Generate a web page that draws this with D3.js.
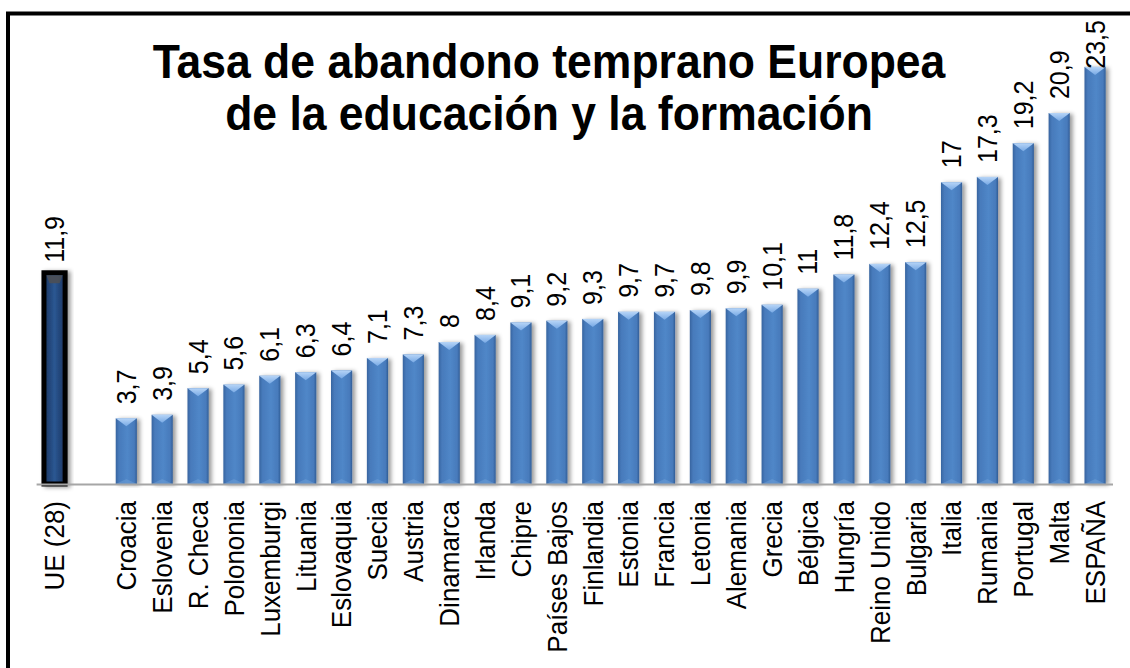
<!DOCTYPE html>
<html>
<head>
<meta charset="utf-8">
<script src="https://cdn.jsdelivr.net/npm/d3@7"></script>
<style>
	html, body { margin: 0; padding: 0; background: #fff; }
	svg { display: block; }
	text { font-family: "Liberation Sans", Arial, sans-serif; }
</style>
</head>
<body>
<script>
// datos
var tituloLineas = ["Tasa de abandono temprano Europea", "de la educación y la formación"];
var mediaNombre = "UE (28)";
var mediaValor = 11.9;
var paises = ["Croacia", "Eslovenia", "R. Checa", "Polononia", "Luxemburgi", "Lituania",
	"Eslovaquia", "Suecia", "Austria", "Dinamarca", "Irlanda", "Chipre", "Países Bajos",
	"Finlandia", "Estonia", "Francia", "Letonia", "Alemania", "Grecia", "Bélgica", "Hungría",
	"Reino Unido", "Bulgaria", "Italia", "Rumania", "Portugal", "Malta", "ESPAÑA"];
var tasas = [3.7, 3.9, 5.4, 5.6, 6.1, 6.3, 6.4, 7.1, 7.3, 8, 8.4, 9.1, 9.2, 9.3, 9.7, 9.7,
	9.8, 9.9, 10.1, 11, 11.8, 12.4, 12.5, 17, 17.3, 19.2, 20.9, 23.5];

var W = 1130, H = 668;
var base = 484;

var svg = d3.select("body").append("svg")
	.attr("width", W)
	.attr("height", H);

var defs = svg.append("defs");

// degradados de las barras
var gAzul = defs.append("linearGradient").attr("id", "azul").attr("x1", 0).attr("x2", 1).attr("y1", 0).attr("y2", 0);
gAzul.append("stop").attr("offset", "0%").attr("stop-color", "#37649f");
gAzul.append("stop").attr("offset", "15%").attr("stop-color", "#477abb");
gAzul.append("stop").attr("offset", "55%").attr("stop-color", "#5087c8");
gAzul.append("stop").attr("offset", "88%").attr("stop-color", "#477abb");
gAzul.append("stop").attr("offset", "100%").attr("stop-color", "#315d96");

var gOscuro = defs.append("linearGradient").attr("id", "oscuro").attr("x1", 0).attr("x2", 1).attr("y1", 0).attr("y2", 0);
gOscuro.append("stop").attr("offset", "0%").attr("stop-color", "#1a3560");
gOscuro.append("stop").attr("offset", "50%").attr("stop-color", "#2b5792");
gOscuro.append("stop").attr("offset", "100%").attr("stop-color", "#1a3560");

var gBisel = defs.append("linearGradient").attr("id", "bisel").attr("x1", 0).attr("x2", 0).attr("y1", 0).attr("y2", 1);
gBisel.append("stop").attr("offset", "0%").attr("stop-color", "#bcd9fa");
gBisel.append("stop").attr("offset", "100%").attr("stop-color", "#7aabe6");

// sombra a la derecha
var sombra = defs.append("filter").attr("id", "sombra")
	.attr("x", "-20%").attr("y", "-5%").attr("width", "160%").attr("height", "110%");
sombra.append("feDropShadow")
	.attr("dx", 3).attr("dy", 1)
	.attr("stdDeviation", 2.2)
	.attr("flood-color", "#000")
	.attr("flood-opacity", 0.4);

// marco (solo izquierda y arriba)
svg.append("path")
	.attr("d", "M8," + H + "V13.5H" + W)
	.attr("fill", "none")
	.attr("stroke", "#000")
	.attr("stroke-width", 4);

var dominio = [mediaNombre, " "].concat(paises);

var x = d3.scaleBand()
	.domain(dominio)
	.range([36.6, 1113])
	.paddingInner(0.41)
	.paddingOuter(0.205);

var y = d3.scaleLinear()
	.domain([0, 25])
	.range([base, base - 25 * 17.75]);

var datos = [{nombre: mediaNombre, valor: mediaValor, media: true}];
paises.forEach(function(p, i) {
	datos.push({nombre: p, valor: tasas[i], media: false});
});

var fmt = function(v) { return String(v).replace(".", ","); };
var bw = x.bandwidth();

var barras = svg.append("g").selectAll("g")
	.data(datos)
	.enter().append("g")
	.attr("filter", "url(#sombra)");

barras.append("rect")
	.attr("x", function(d) { return x(d.nombre); })
	.attr("y", function(d) { return y(d.valor); })
	.attr("width", bw)
	.attr("height", function(d) { return base - y(d.valor); })
	.attr("fill", function(d) { return d.media ? "url(#oscuro)" : "url(#azul)"; })
	.attr("stroke", function(d) { return d.media ? "#000" : "none"; })
	.attr("stroke-width", 5);

// bisel superior
barras.append("path")
	.attr("d", function(d) {
		var x0 = x(d.nombre), t = y(d.valor), h = 8;
		if (d.media) {
			x0 += 2.5; t += 2.5;
			var w = bw - 5;
			return "M" + x0 + "," + t + "H" + (x0 + w) + "L" + (x0 + w - 3) + "," + (t + h) + "H" + (x0 + 3) + "Z";
		}
		return "M" + x0 + "," + t + "H" + (x0 + bw) + "L" + (x0 + bw / 2) + "," + (t + h) + "Z";
	})
	.attr("fill", function(d) { return d.media ? "#4a4f57" : "url(#bisel)"; })
	.attr("opacity", 0.95);

// bisel inferior suave
barras.filter(function(d) { return !d.media; }).append("path")
	.attr("d", function(d) {
		var x0 = x(d.nombre);
		return "M" + x0 + "," + base + "H" + (x0 + bw) + "L" + (x0 + bw / 2) + "," + (base - 5) + "Z";
	})
	.attr("fill", "#6e9fd8")
	.attr("opacity", 0.5);

// eje
svg.append("line")
	.attr("x1", x.range()[0])
	.attr("x2", x.range()[1])
	.attr("y1", base + 0.5)
	.attr("y2", base + 0.5)
	.attr("stroke", "#a6a6a6")
	.attr("stroke-width", 2);

// etiquetas de valor
svg.append("g").selectAll("text")
	.data(datos)
	.enter().append("text")
	.text(function(d) { return fmt(d.valor); })
	.attr("font-size", 25)
	.attr("fill", "#000")
	.attr("text-anchor", "start")
	.attr("dy", "0.35em")
	.attr("transform", function(d) {
		var cx = x(d.nombre) + bw / 2;
		var ty = y(d.valor) - (d.media ? 10 : 14);
		var largo = this.getComputedTextLength();
		if (ty - largo < 20) ty = 20 + largo;
		return "translate(" + cx + "," + ty + ") rotate(-90) scale(1,1.08)";
	});

// etiquetas de categoría
svg.append("g").selectAll("text")
	.data(datos)
	.enter().append("text")
	.text(function(d) { return d.nombre; })
	.attr("font-size", 26)
	.attr("fill", "#000")
	.attr("text-anchor", "end")
	.attr("dy", "0.35em")
	.attr("transform", function(d) {
		return "translate(" + (x(d.nombre) + bw / 2) + ",501) rotate(-90) scale(1,1.08)";
	});

// título
svg.append("g").selectAll("text")
	.data(tituloLineas)
	.enter().append("text")
	.attr("transform", function(d, i) { return "translate(549," + (78 + i * 52) + ") scale(1,1.1)"; })
	.attr("text-anchor", "middle")
	.attr("font-size", 44.5)
	.attr("font-weight", "bold")
	.attr("fill", "#000")
	.text(function(d) { return d; });
</script>
</body>
</html>
